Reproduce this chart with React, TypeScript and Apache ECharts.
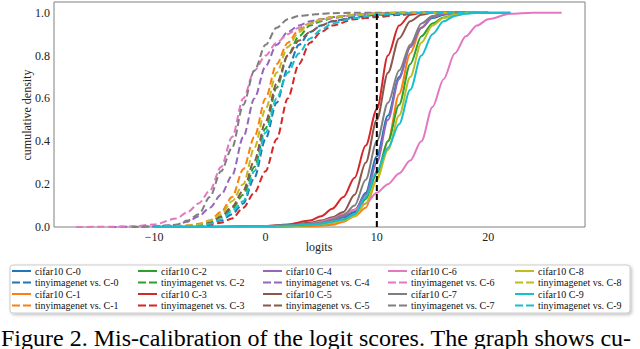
import React, { useEffect, useRef } from "react";
import * as echarts from "echarts";

const COLORS = ["#1f77b4", "#ff7f0e", "#2ca02c", "#d62728", "#9467bd", "#8c564b", "#e377c2", "#7f7f7f", "#bcbd22", "#17becf"];
const CLASSES = ["C-0", "C-1", "C-2", "C-3", "C-4", "C-5", "C-6", "C-7", "C-8", "C-9"];

// x grid for the in-distribution (cifar10) curves
const ID_X = [-10, -6, -2, 0, 2, 4, 5, 6, 7, 8, 9, 10, 11, 12, 13, 14, 15, 16, 17, 18, 19, 20, 22, 24, 26.6];
const id0 = [0, 0, 0.001, 0.002, 0.005, 0.012, 0.018, 0.028, 0.045, 0.07, 0.16, 0.33, 0.52, 0.7, 0.84, 0.93, 0.975, 0.99, 1, 1, 1, 1, null, null, null];
const id1 = [0, 0, 0.001, 0.001, 0.002, 0.004, 0.006, 0.01, 0.025, 0.05, 0.09, 0.22, 0.4, 0.62, 0.81, 0.93, 0.98, 0.995, 1, 1, 1, 1, null, null, null];
const id2 = [0, 0, 0.001, 0.002, 0.004, 0.008, 0.012, 0.02, 0.035, 0.06, 0.13, 0.25, 0.4, 0.57, 0.76, 0.89, 0.95, 0.978, 0.99, 1, 1, 1, 1, null, null];
const id3 = [0, 0.001, 0.002, 0.005, 0.012, 0.03, 0.05, 0.085, 0.14, 0.23, 0.38, 0.55, 0.8, 0.94, 0.99, 1, 1, 1, 1, 1, null, null, null, null, null];
const id4 = [0, 0, 0.001, 0.003, 0.007, 0.015, 0.022, 0.033, 0.05, 0.08, 0.15, 0.3, 0.5, 0.69, 0.84, 0.93, 0.98, 0.995, 1, 1, 1, null, null, null, null];
const id5 = [0, 0.001, 0.002, 0.003, 0.008, 0.02, 0.03, 0.045, 0.07, 0.15, 0.3, 0.5, 0.72, 0.88, 0.96, 0.99, 1, 1, 1, 1, null, null, null, null, null];
const id6 = [0, 0, 0.001, 0.002, 0.005, 0.015, 0.025, 0.04, 0.06, 0.08, 0.11, 0.16, 0.2, 0.25, 0.31, 0.4, 0.56, 0.69, 0.81, 0.89, 0.94, 0.97, 0.995, 1, 1];
const id7 = [0, 0, 0.001, 0.003, 0.007, 0.015, 0.02, 0.035, 0.055, 0.1, 0.22, 0.4, 0.58, 0.73, 0.85, 0.95, 0.985, 1, 1, 1, 1, null, null, null, null];
const id8 = [0, 0, 0.001, 0.002, 0.004, 0.008, 0.012, 0.02, 0.03, 0.05, 0.11, 0.22, 0.36, 0.52, 0.7, 0.86, 0.94, 0.975, 0.99, 1, 1, 1, null, null, null];
const id9 = [0, 0, 0.002, 0.004, 0.007, 0.01, 0.015, 0.025, 0.035, 0.06, 0.14, 0.26, 0.37, 0.48, 0.64, 0.8, 0.9, 0.96, 0.985, 0.995, 1, 1, 1, null, null];

// x grid for the out-of-distribution (tinyimagenet) curves
const OOD_X = [-17, -14, -12, -10, -8, -7, -6, -5, -4, -3, -2, -1, 0, 1, 2, 3, 4, 5, 6, 8, 10, 12, 14, 17, 20];
const ood0 = [null, null, null, 0, 0.001, 0.003, 0.006, 0.015, 0.03, 0.06, 0.11, 0.23, 0.41, 0.58, 0.74, 0.85, 0.91, 0.94, 0.96, 0.98, 0.99, 0.995, 1, 1, 1];
const ood1 = [null, null, null, 0, 0.003, 0.008, 0.015, 0.03, 0.07, 0.14, 0.27, 0.42, 0.6, 0.76, 0.86, 0.92, 0.95, 0.97, 0.98, 0.99, 0.997, 1, 1, 1, null];
const ood2 = [null, null, null, 0, 0.002, 0.004, 0.008, 0.02, 0.045, 0.085, 0.15, 0.28, 0.46, 0.65, 0.8, 0.89, 0.94, 0.96, 0.975, 0.99, 0.995, 1, 1, 1, 1];
const ood3 = [null, null, null, 0, 0.001, 0.003, 0.005, 0.01, 0.02, 0.04, 0.09, 0.16, 0.26, 0.41, 0.6, 0.76, 0.86, 0.91, 0.94, 0.97, 0.98, 0.99, 1, 1, null];
const ood4 = [null, 0, 0.001, 0.002, 0.01, 0.025, 0.05, 0.09, 0.15, 0.24, 0.42, 0.6, 0.75, 0.85, 0.91, 0.94, 0.96, 0.97, 0.98, 0.99, 0.995, 1, 1, null, null];
const ood5 = [null, null, null, 0, 0.002, 0.004, 0.008, 0.02, 0.05, 0.095, 0.17, 0.31, 0.49, 0.67, 0.8, 0.87, 0.91, 0.94, 0.96, 0.975, 0.985, 0.99, 1, 1, null];
const ood6 = [0, 0.001, 0.003, 0.012, 0.04, 0.07, 0.11, 0.17, 0.28, 0.42, 0.6, 0.73, 0.8, 0.86, 0.9, 0.93, 0.95, 0.965, 0.975, 0.99, 0.997, 1, 1, null, null];
const ood7 = [null, null, 0, 0.003, 0.01, 0.03, 0.06, 0.14, 0.26, 0.37, 0.57, 0.73, 0.85, 0.93, 0.97, 0.985, 0.99, 0.995, 0.998, 1, 1, 1, null, null, null];
const ood8 = [null, null, null, 0, 0.003, 0.006, 0.01, 0.03, 0.06, 0.12, 0.2, 0.37, 0.55, 0.72, 0.84, 0.91, 0.95, 0.97, 0.98, 0.99, 0.995, 1, 1, 1, null];
const ood9 = [null, null, null, 0, 0.001, 0.003, 0.005, 0.015, 0.035, 0.075, 0.12, 0.26, 0.44, 0.6, 0.72, 0.81, 0.88, 0.92, 0.95, 0.975, 0.99, 0.995, 1, 1, 1];

const ID_Y = [id0, id1, id2, id3, id4, id5, id6, id7, id8, id9];
const OOD_Y = [ood0, ood1, ood2, ood3, ood4, ood5, ood6, ood7, ood8, ood9];

const THRESH_X = [10, 10];
const THRESH_Y = [0, 1];

const X_TITLE = "logits";
const Y_TITLE = "cumulative density";
const CAPTION = "Figure 2. Mis-calibration of the logit scores. The graph shows cu-";

const idName = (c: string) => `cifar10 ${c}`;
const oodName = (c: string) => `tinyimagenet vs. ${c}`;

const SOLID_ICON = "path://M0,0H19V2H0Z";
const DASHED_ICON = "path://M0,0H8V2H0Z M11,0H19V2H11Z";

function pairs(xs: number[], ys: (number | null)[]) {
  return xs.map((x, i) => [x, ys[i]]).filter((p) => p[1] !== null);
}

export default function App() {
  const ref = useRef<HTMLDivElement>(null);
  useEffect(() => {
    if (!ref.current) return;
    const chart = echarts.init(ref.current, null, { renderer: "svg" });
    const series: any[] = [];
    CLASSES.forEach((c, i) => {
      series.push({
        name: idName(c),
        type: "line",
        data: pairs(ID_X, ID_Y[i]),
        symbol: "none",
        smooth: 0.3,
        smoothMonotone: "x",
        color: COLORS[i],
        lineStyle: { width: 2, color: COLORS[i], type: "solid" },
      });
      series.push({
        name: oodName(c),
        type: "line",
        data: pairs(OOD_X, OOD_Y[i]),
        symbol: "none",
        smooth: 0.3,
        smoothMonotone: "x",
        color: COLORS[i],
        lineStyle: { width: 2, color: COLORS[i], type: [7, 3.5] },
      });
    });
    series.push({
      name: "threshold",
      type: "line",
      data: THRESH_X.map((x, i) => [x, THRESH_Y[i]]),
      symbol: "none",
      color: "#000",
      lineStyle: { width: 2, color: "#000", type: [6, 3] },
      z: 5,
    });

    const colLefts = [12, 138, 263, 388, 515];
    const legends = colLefts.map((left, col) => {
      const a = CLASSES[col * 2];
      const b = CLASSES[col * 2 + 1];
      return {
        orient: "vertical",
        left,
        top: 266,
        padding: 0,
        itemWidth: 19,
        itemHeight: 2,
        itemGap: 1.5,
        z: 10,
        selectedMode: false,
        data: [
          { name: idName(a), icon: SOLID_ICON },
          { name: oodName(a), icon: DASHED_ICON },
          { name: idName(b), icon: SOLID_ICON },
          { name: oodName(b), icon: DASHED_ICON },
        ],
        textStyle: { fontFamily: "Liberation Serif", fontSize: 10, color: "#111", lineHeight: 10, padding: [0, 0, 0, -1] },
      };
    });

    chart.setOption({
      animation: false,
      backgroundColor: "#fff",
      grid: { left: 54, right: 55, top: 2, bottom: 122, show: true, borderColor: "#808080", borderWidth: 1, containLabel: false },
      xAxis: {
        type: "value",
        min: -19,
        max: 28.7,
        splitNumber: 5,
        axisLine: { show: false },
        axisTick: { show: false },
        splitLine: { show: false },
        axisLabel: {
          margin: 4,
          fontFamily: "Liberation Serif",
          fontSize: 12,
          color: "#222",
          showMinLabel: false,
          showMaxLabel: false,
          formatter: (v: number) => (Math.abs(v / 10 - Math.round(v / 10)) < 1e-6 ? (v < 0 ? "\u2212" + Math.abs(v) : String(v)) : ""),
        },
      },
      yAxis: {
        type: "value",
        min: 0,
        max: 1.05,
        interval: 0.2,
        axisLine: { show: false },
        axisTick: { show: false },
        splitLine: { show: false },
        axisLabel: {
          margin: 4,
          fontFamily: "Liberation Serif",
          fontSize: 12,
          color: "#222",
          formatter: (v: number) => (Math.abs(v * 5 - Math.round(v * 5)) < 1e-6 ? v.toFixed(1) : ""),
        },
      },
      legend: legends,
      graphic: [
        {
          type: "rect",
          z: 1,
          shape: { x: 10, y: 265, width: 620, height: 48, r: 3 },
          style: { fill: "#fff", stroke: "#cccccc", lineWidth: 1, shadowBlur: 3, shadowOffsetX: 1.5, shadowOffsetY: 1.5, shadowColor: "rgba(0,0,0,0.25)" },
        },
        {
          type: "text",
          z: 1,
          x: 319,
          y: 247,
          style: { text: X_TITLE, fontFamily: "Liberation Serif", fontSize: 12, fill: "#222", textAlign: "center", textVerticalAlign: "middle" },
        },
        {
          type: "text",
          z: 1,
          x: 27,
          y: 115,
          rotation: Math.PI / 2,
          style: { text: Y_TITLE, fontFamily: "Liberation Serif", fontSize: 12, fill: "#222", textAlign: "center", textVerticalAlign: "middle" },
        },
        {
          type: "text",
          z: 1,
          left: 1,
          top: 326,
          style: { text: CAPTION, fontFamily: "Liberation Serif", fontSize: 24, fill: "#000" },
        },
      ],
      series,
    });
    return () => chart.dispose();
  }, []);
  return <div ref={ref} style={{ width: 640, height: 349, position: "absolute", left: 0, top: 0 }} />;
}
